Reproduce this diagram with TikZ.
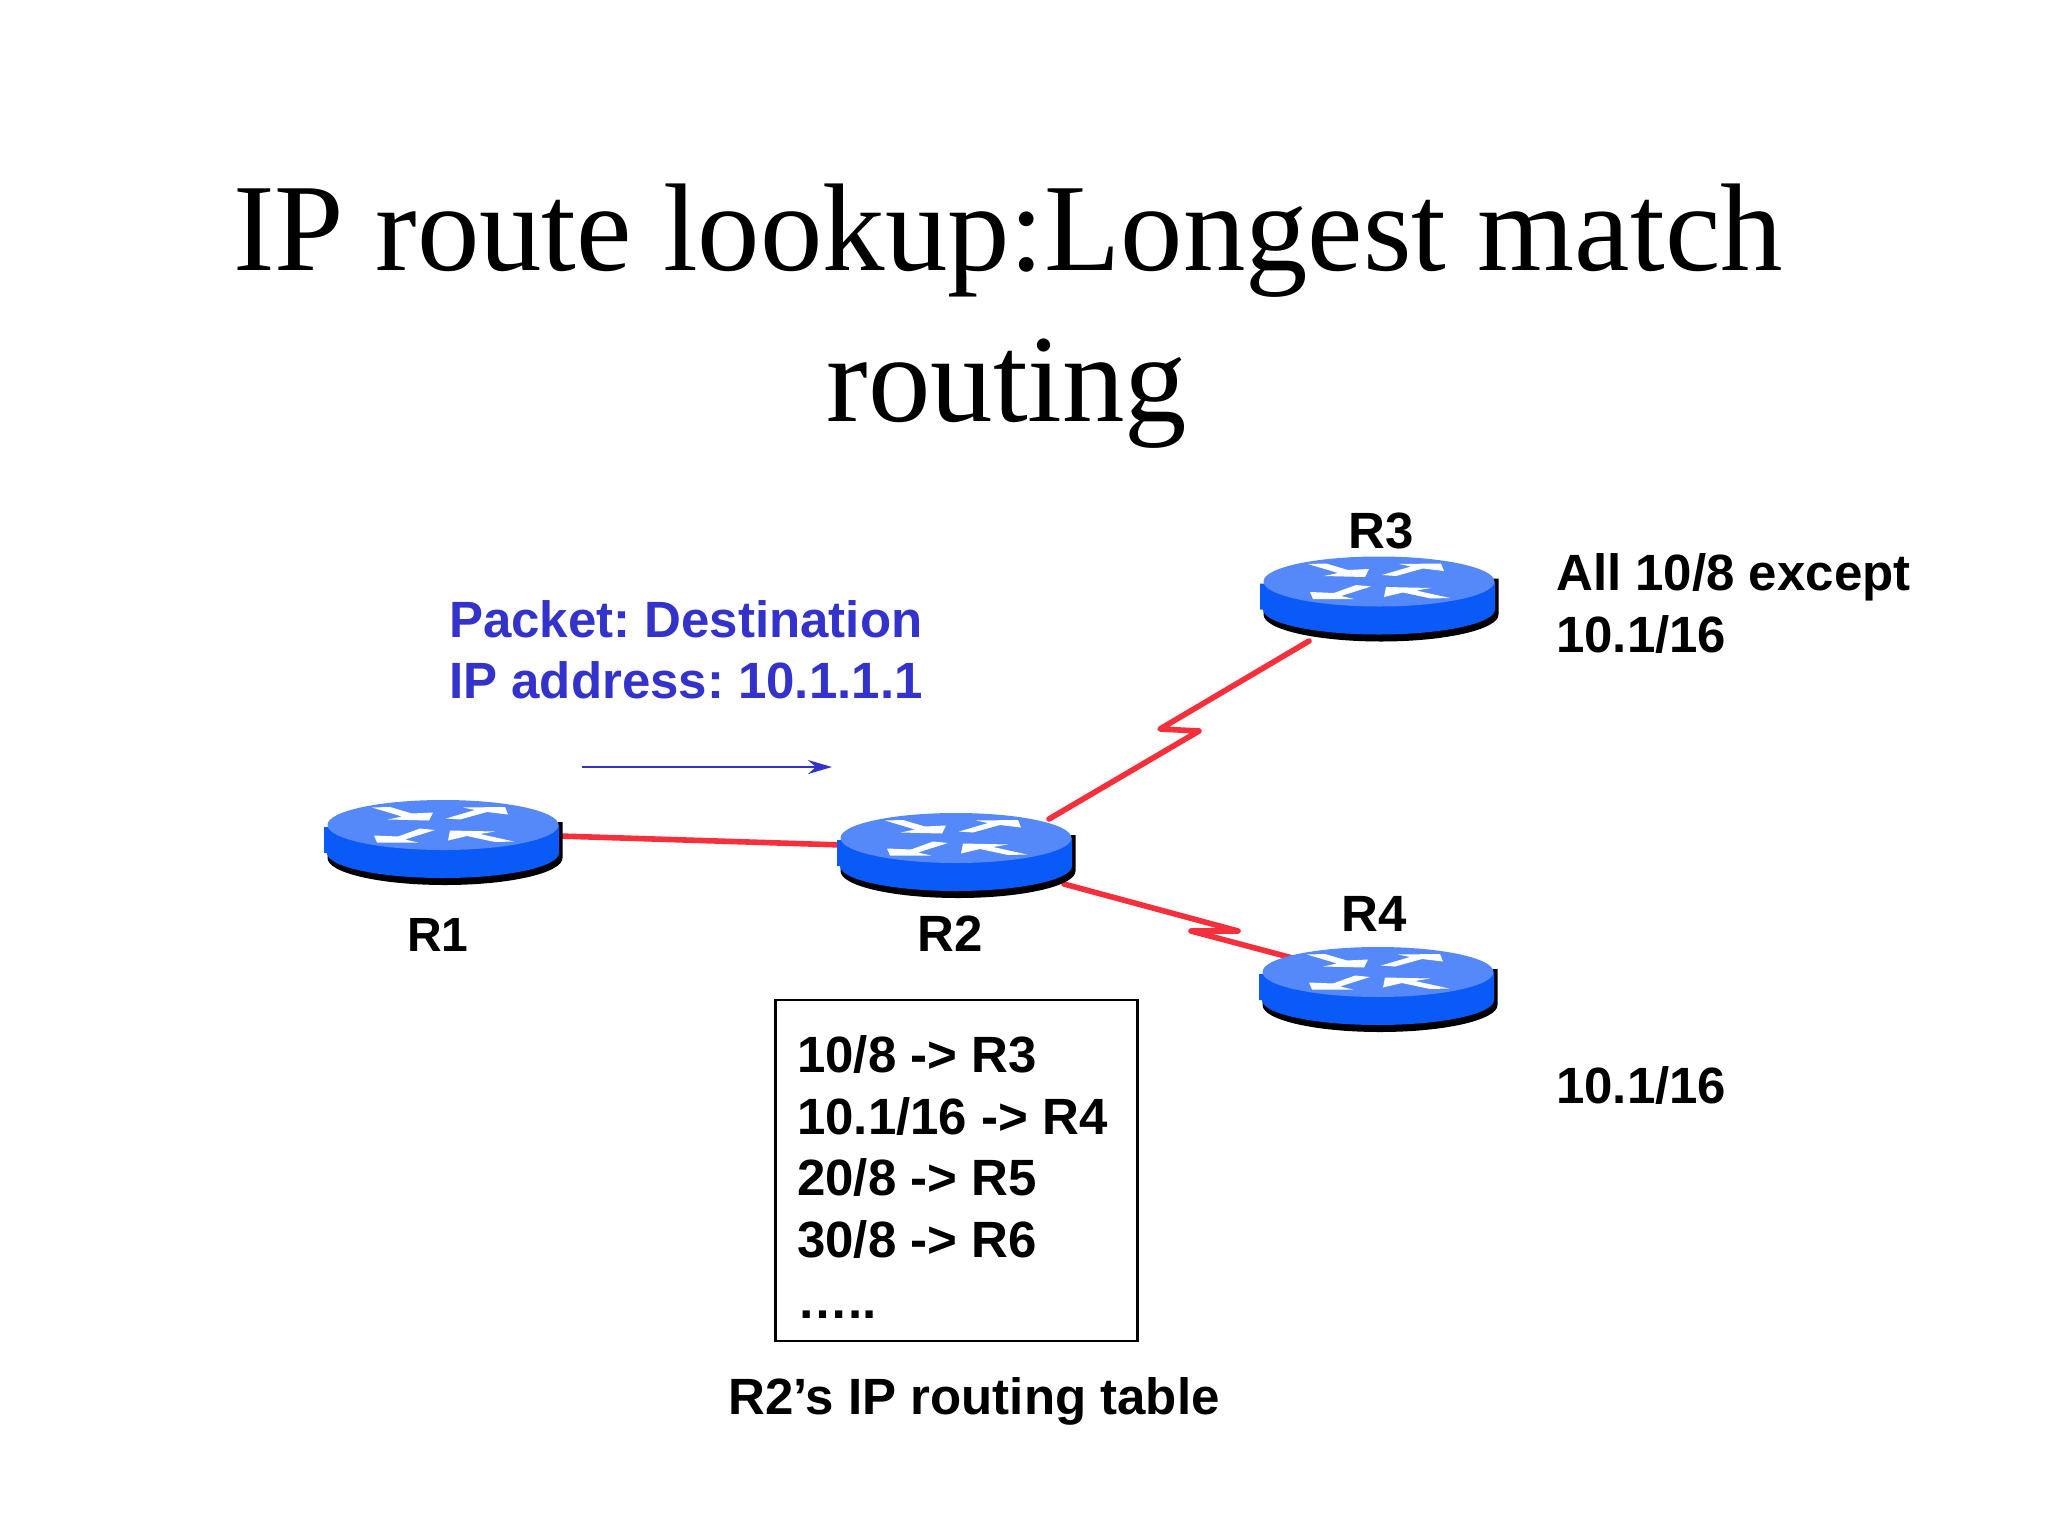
\documentclass[tikz,border=0pt]{standalone}
\usepackage{fontspec}
\setmainfont{Liberation Serif}
\newfontfamily\lsans{Liberation Sans}[Ligatures=TeX]
\definecolor{rtop}{HTML}{5588F8}
\definecolor{rbody}{HTML}{0A5AF8}
\definecolor{lnk}{HTML}{F5303C}
\definecolor{pkt}{HTML}{3333CC}
\usetikzlibrary{arrows.meta}
\tikzset{
  x=1pt,y=-1pt,
  title/.style={inner sep=0,anchor=base,font=\fontsize{124.8}{151}\selectfont},
  lbl/.style={inner sep=0,font=\lsans\bfseries\fontsize{51}{61.4}\selectfont\frenchspacing,align=left,anchor=base west},
  rname/.style={inner sep=0,font=\lsans\bfseries\fontsize{51}{61.4}\selectfont\frenchspacing,anchor=base},
  rslot/.style={inner sep=0,minimum width=238,minimum height=84},
  link/.style={draw=lnk,line width=5.6pt,line cap=round,line join=round},
  router/.pic={
    \fill[black] (119.5,33) arc[start angle=0,end angle=180,x radius=117.5,y radius=27] -- (-115,3) -- (119.5,-3) -- cycle;
    \fill[rbody] (-119,2) -- (-115.5,2) -- (116,0) -- (116,28)
       arc[start angle=0,end angle=180,x radius=116,y radius=25] -- (-119,28) -- cycle;
    \fill[rtop] (0,0) ellipse[x radius=115.5,y radius=25];
    \fill[white] (-71,-17.5) -- (-53,-18) -- (-31,-11.5) -- (-10,-12.5) -- (-14,-4.5) -- (-55,-5.5) -- (-41,-8.5) -- cycle;
    \fill[white] (3,-6.5) -- (32,-15) -- (20,-17.5) -- (62,-18) -- (65,-10.5) -- (44,-13) -- (17,-5.5) -- cycle;
    \fill[white] (-8,5) -- (-23,3.5) -- (-45,11.5) -- (-69,10.5) -- (-66,17.5) -- (-25,17.5) -- (-38,14.5) -- cycle;
    \fill[white] (7,5.5) -- (52,6.5) -- (37,9) -- (71,16.5) -- (52,17) -- (24,11) -- (5,15.5) -- cycle;
  },
}
\begin{document}
\begin{tikzpicture}
\useasboundingbox (0,0) rectangle (2048,1536);
\fill[white] (0,0) rectangle (2048,1536);
\node[title] (t1) at (1008,270.5) {IP route lookup:Longest match};
\node[title] (t2) at (1007,421.5) {routing};
% router slots
\node[rslot] (r1) at (443,840) {};
\node[rslot] (r2) at (956,853) {};
\node[rslot] (r3) at (1379,596) {};
\node[rslot] (r4) at (1378,987) {};
% link ends
\coordinate (r1e) at (559,836);
\coordinate (r2w) at (842,845);
\coordinate (r2n) at (1049,819);
\coordinate (z3a) at (1199,731);
\coordinate (z3b) at (1160,729);
\coordinate (r3s) at (1309,641);
\coordinate (r2s) at (1064,884);
\coordinate (z4a) at (1238,931);
\coordinate (z4b) at (1191,931);
\coordinate (r4n) at (1300,960);
\draw[link] (r1e) -- (r2w);
\draw[link] (r2n) -- (z3a) -- (z3b) -- (r3s);
\draw[link] (r2s) -- (z4a) -- (z4b) -- (r4n);
\pic at (443,825) {router};
\pic at (956,838) {router};
\pic at (1379,581.5) {router};
\pic at (1378,972) {router};
\node[rname,font=\lsans\bfseries\fontsize{48}{61.4}\selectfont] (l1) at (438,951.5) {R1};
\node[rname] (l2) at (950,951.5) {R2};
\node[rname] (l3) at (1381,548) {R3};
\node[rname] (l4) at (1374,931) {R4};
\node[lbl,text=pkt] (pk) at (449,698.4) {Packet: Destination\\IP address: 10.1.1.1};
\coordinate (aa) at (582,767);
\coordinate (ab) at (832,767);
\draw[pkt,line width=2.2pt,-{Stealth[length=24pt,width=14pt]}] (aa) -- (ab);
\node[lbl] (all) at (1556,652) {All 10/8 except\\10.1/16};
\node[lbl] (sub) at (1556,1103.5) {10.1/16};
\node[draw=black,line width=2.8pt,minimum width=361.5,minimum height=341,inner sep=0] (tbl) at (956.5,1170.5) {};
\node[lbl] (rows) at (797,1318.4) {10/8 -> R3\\10.1/16 -> R4\\20/8 -> R5\\30/8 -> R6\\…..};
\node[rname] (cap) at (974,1414) {R2’s IP routing table};
\end{tikzpicture}
\end{document}
